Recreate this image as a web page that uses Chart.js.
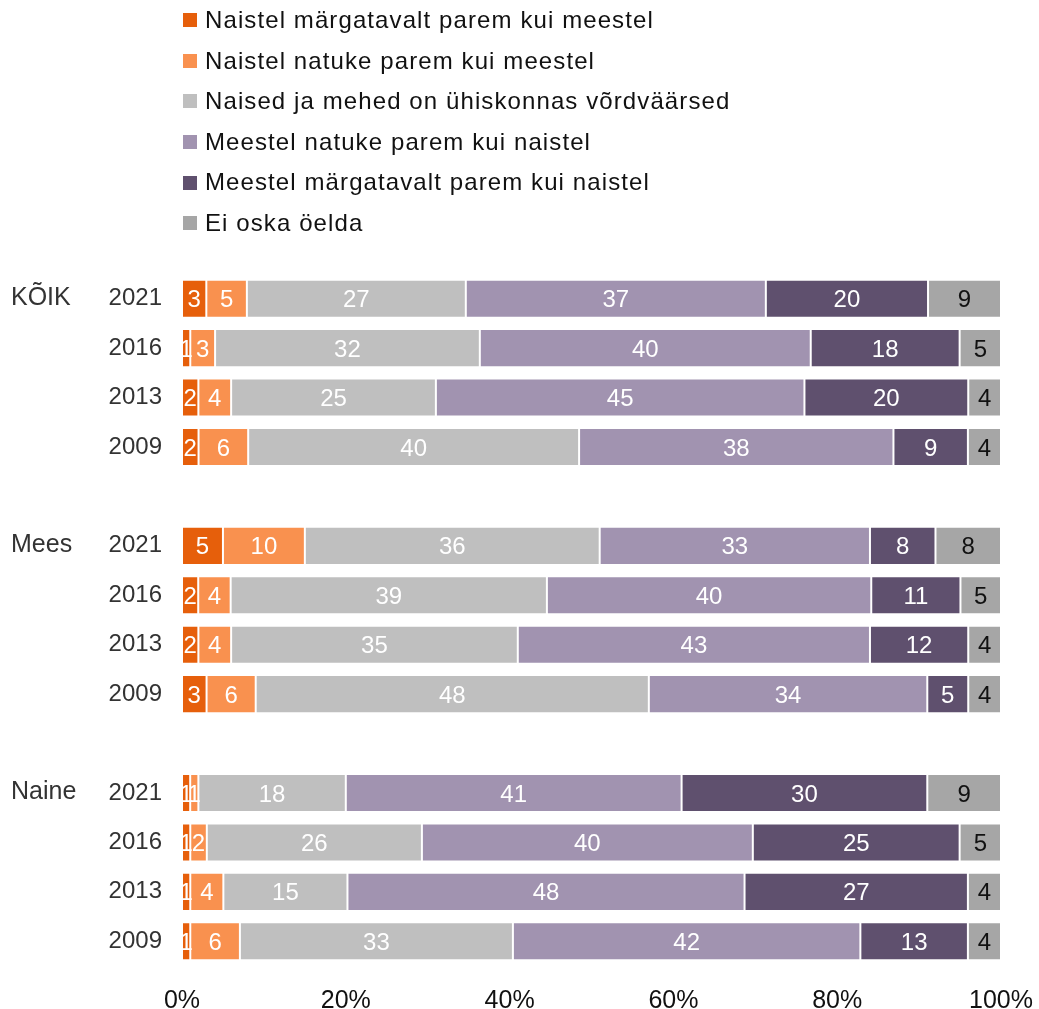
<!DOCTYPE html>
<html>
<head>
<meta charset="utf-8">
<script src="https://cdn.jsdelivr.net/npm/chart.js@4.4.1/dist/chart.umd.min.js"></script>
<style>
  html, body { margin: 0; padding: 0; background: #fff; }
  #wrap { position: relative; width: 1039px; height: 1009px; }
  #legend { position: absolute; left: 183px; top: 0; font-family: 'Liberation Sans', Arial, sans-serif; font-size: 24px; letter-spacing: 1.1px; color: #111; }
  .li { height: 40.6px; line-height: 40.6px; white-space: nowrap; display: flex; align-items: center; }
  .sw { width: 14px; height: 14px; margin-right: 8px; flex: none; }
</style>
</head>
<body>
<div id="wrap">
  <canvas id="c" width="1039" height="1009"></canvas>
  <div id="legend"></div>
</div>
<script>
// ---- data ----
const groups = ['KÕIK', 'Mees', 'Naine'];
const years = ['2021', '2016', '2013', '2009'];
const seriesNames = [
  'Naistel märgatavalt parem kui meestel',
  'Naistel natuke parem kui meestel',
  'Naised ja mehed on ühiskonnas võrdväärsed',
  'Meestel natuke parem kui naistel',
  'Meestel märgatavalt parem kui naistel',
  'Ei oska öelda'
];
// values per bar, order: KÕIK 2021..2009, Mees 2021..2009, Naine 2021..2009
const naistelMargatavalt = [3, 1, 2, 2,   5, 2, 2, 3,   1, 1, 1, 1];
const naistelNatuke      = [5, 3, 4, 6,  10, 4, 4, 6,   1, 2, 4, 6];
const vordvaarsed        = [27, 32, 25, 40,  36, 39, 35, 48,  18, 26, 15, 33];
const meestelNatuke      = [37, 40, 45, 38,  33, 40, 43, 34,  41, 40, 48, 42];
const meestelMargatavalt = [20, 18, 20, 9,   8, 11, 12, 5,   30, 25, 27, 13];
const eiOska             = [9, 5, 4, 4,   8, 5, 4, 4,   9, 5, 4, 4];
const xTicks = ['0%', '20%', '40%', '60%', '80%', '100%'];

const colors = ['#E65F0B', '#F9914F', '#BFBFBF', '#A193B0', '#5F506E', '#A6A6A6'];
const labelColors = ['#fff', '#fff', '#fff', '#fff', '#fff', '#111'];

const rawSeries = [naistelMargatavalt, naistelNatuke, vordvaarsed, meestelNatuke, meestelMargatavalt, eiOska];

// build category labels with one empty slot between groups
const catLabels = [];
const slotMap = []; // slot -> bar index or null
groups.forEach((g, gi) => {
  years.forEach((y, yi) => { catLabels.push(y); slotMap.push(gi * years.length + yi); });
  if (gi < groups.length - 1) { catLabels.push(''); slotMap.push(null); }
});
const rowSums = naistelMargatavalt.map((_, i) => rawSeries.reduce((s, arr) => s + arr[i], 0));

const datasets = rawSeries.map((arr, si) => ({
  label: seriesNames[si],
  data: slotMap.map(b => b === null ? null : arr[b] / rowSums[b] * 100),
  raw: slotMap.map(b => b === null ? null : arr[b]),
  backgroundColor: colors[si],
  borderColor: 'rgba(255,255,255,0.45)',
  borderWidth: 1,
  borderSkipped: false,
  barPercentage: 0.77,
  categoryPercentage: 1.0
}));

const FONT = "'Liberation Sans', Arial, sans-serif";

const labelPlugin = {
  id: 'segLabels',
  afterDatasetsDraw(chart) {
    const ctx = chart.ctx;
    ctx.save();
    ctx.font = '24px ' + FONT;
    ctx.textAlign = 'center';
    ctx.textBaseline = 'middle';
    chart.data.datasets.forEach((ds, di) => {
      const meta = chart.getDatasetMeta(di);
      meta.data.forEach((el, i) => {
        const v = ds.raw[i];
        if (v === null || v === undefined) return;
        const x = (el.x + el.base) / 2;
        ctx.fillStyle = labelColors[di];
        ctx.fillText(String(v), x, el.y + 2);
      });
    });
    ctx.restore();
  }
};

const groupPlugin = {
  id: 'groupLabels',
  afterDraw(chart) {
    const ctx = chart.ctx;
    const yScale = chart.scales.y;
    ctx.save();
    ctx.font = '25px ' + FONT;
    ctx.fillStyle = '#333';
    ctx.textAlign = 'left';
    ctx.textBaseline = 'middle';
    groups.forEach((g, gi) => {
      const slot = gi * (years.length + 1);
      ctx.fillText(g, 11, yScale.getPixelForValue(slot) - 1);
    });
    ctx.restore();
  }
};

const chart = new Chart(document.getElementById('c'), {
  type: 'bar',
  data: { labels: catLabels, datasets },
  options: {
    indexAxis: 'y',
    responsive: false,
    animation: false,
    layout: { padding: { top: 274, right: 38, bottom: 0, left: 0 } },
    plugins: {
      legend: { display: false },
      tooltip: { enabled: false }
    },
    scales: {
      x: {
        stacked: true,
        min: 0, max: 100,
        grid: { display: false, drawTicks: false },
        border: { display: false },
        ticks: {
          stepSize: 20,
          padding: 20,
          color: '#111',
          font: { family: FONT, size: 25 },
          callback: (v, i) => xTicks[i]
        },
        afterFit(s) { s.height = 43; s.paddingLeft = 0; s.paddingRight = 0; }
      },
      y: {
        stacked: true,
        grid: { display: false, drawTicks: false },
        border: { display: false },
        ticks: {
          padding: 20,
          color: '#333',
          font: { family: FONT, size: 24 }
        },
        afterFit(s) { s.width = 182; }
      }
    }
  },
  plugins: [labelPlugin, groupPlugin]
});

// HTML legend from datasets
const leg = document.getElementById('legend');
chart.data.datasets.forEach(ds => {
  const row = document.createElement('div');
  row.className = 'li';
  const sw = document.createElement('span');
  sw.className = 'sw';
  sw.style.background = ds.backgroundColor;
  const t = document.createElement('span');
  t.textContent = ds.label;
  row.appendChild(sw); row.appendChild(t);
  leg.appendChild(row);
});
</script>
</body>
</html>
